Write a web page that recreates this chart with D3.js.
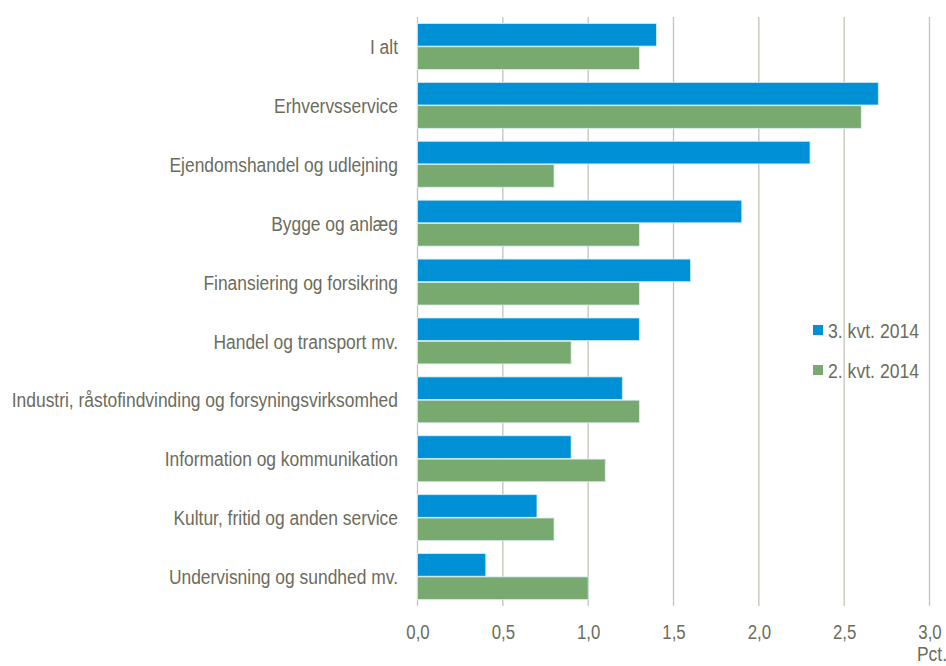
<!DOCTYPE html>
<html><head><meta charset="utf-8">
<script src="https://cdn.jsdelivr.net/npm/d3@7"></script>
<style>
html,body{margin:0;padding:0;background:#fff;}
svg text{font-family:"Liberation Sans Narrow","Arial Narrow","Liberation Sans",sans-serif;fill:#6b6c5c;}
</style></head>
<body><svg id="c" width="946" height="666"></svg>
<script>
const categories = ["I alt","Erhvervsservice","Ejendomshandel og udlejning","Bygge og anlæg","Finansiering og forsikring","Handel og transport mv.","Industri, råstofindvinding og forsyningsvirksomhed","Information og kommunikation","Kultur, fritid og anden service","Undervisning og sundhed mv."];
const seriesNames = ["3. kvt. 2014","2. kvt. 2014"];
const q3 = [1.4,2.7,2.3,1.9,1.6,1.3,1.2,0.9,0.7,0.4];
const q2 = [1.3,2.6,0.8,1.3,1.3,0.9,1.3,1.1,0.8,1.0];
const ticks = [0,0.5,1,1.5,2,2.5,3];
const colors = ["#0090d5","#78aa70"];

const SX = 0.83; // condensed look
const svg = d3.select("#c");
const x = d3.scaleLinear().domain([0,3]).range([417.5,929.5]);
const y = d3.scaleBand().domain(categories).range([17,606]).paddingInner(0.22).paddingOuter(0.11);
const ys = d3.scaleBand().domain(seriesNames).range([0,y.bandwidth()]).paddingInner(0.03);

// gridlines
svg.append("g").selectAll("line").data(ticks).join("line")
  .attr("x1",d=>x(d)).attr("x2",d=>x(d)).attr("y1",17).attr("y2",606)
  .attr("stroke","#c4c3b8").attr("stroke-width",1.3);

const data = [q3,q2];
data.forEach((vals,si)=>{
  svg.append("g").selectAll("rect").data(vals).join("rect")
    .attr("x",x(0)).attr("y",(d,i)=>y(categories[i])+ys(seriesNames[si]))
    .attr("width",d=>x(d)-x(0)).attr("height",ys.bandwidth())
    .attr("fill",colors[si]).attr("stroke","#d6ecf5").attr("stroke-width",0.8);
});

// category labels
const yAxis = d3.axisLeft(y).tickSize(0).tickPadding(0);
const ga = svg.append("g").attr("transform",`translate(${x(0)},0)`).call(yAxis);
ga.select(".domain").remove();
ga.selectAll("text").attr("font-size",21).attr("font-family",null).attr("fill",null)
  .attr("x",0).attr("dy","0.36em").attr("transform",`translate(-19.5,0) scale(${SX},1)`);

// x axis
const xAxis = d3.axisBottom(x).tickValues(ticks).tickSize(0).tickPadding(0)
  .tickFormat(d=>d3.format(".1f")(d).replace(".",","));
const gx = svg.append("g").attr("transform","translate(0,623)").call(xAxis);
gx.select(".domain").remove();
gx.selectAll("text").attr("font-size",21).attr("font-family",null).attr("fill",null)
  .attr("y",0).attr("dy","0.75em").attr("transform",`scale(0.8,1)`);

svg.append("text").attr("x",0).attr("y",0).attr("font-size",21)
  .attr("transform",`translate(917,661) scale(${SX},1)`).text("Pct.");

// legend
const lg = svg.append("g");
seriesNames.forEach((s,i)=>{
  const yy = 330 + i*40;
  lg.append("rect").attr("x",813).attr("y",yy-5).attr("width",10).attr("height",10).attr("fill",colors[i]);
  lg.append("text").attr("x",0).attr("y",0).attr("dy","0.36em").attr("font-size",21)
    .attr("transform",`translate(828,${yy}) scale(0.84,1)`).text(s);
});
</script></body></html>
